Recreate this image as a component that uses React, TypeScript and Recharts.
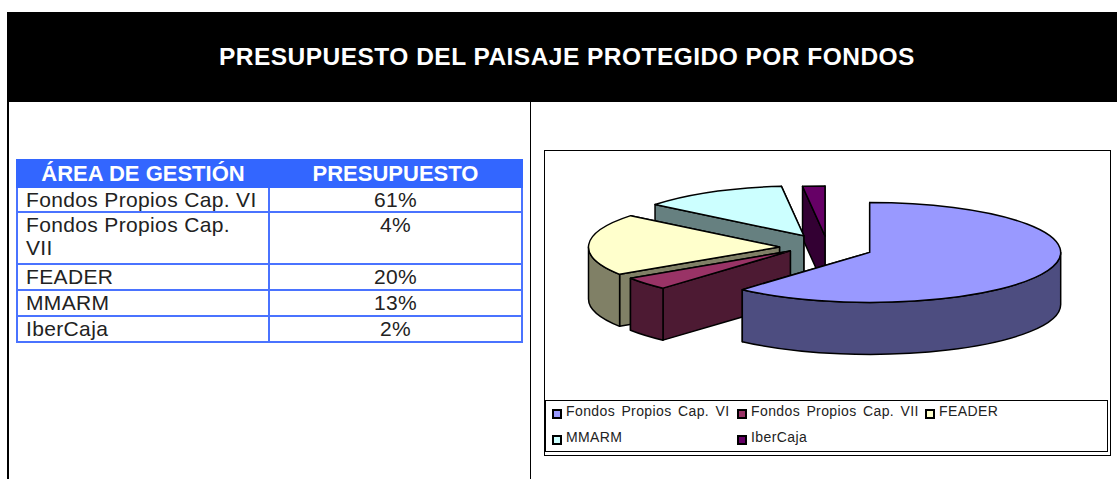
import React from "react";
import { PieChart, Pie, Legend } from "recharts";

const title = "PRESUPUESTO DEL PAISAJE PROTEGIDO POR FONDOS";
const tableHeaders = ["ÁREA DE GESTIÓN", "PRESUPUESTO"];
const areas = ["Fondos Propios Cap. VI", "Fondos Propios Cap. VII", "FEADER", "MMARM", "IberCaja"];
const budget = [61, 4, 20, 13, 2];
const topColors = ["#9999FF", "#993366", "#FFFFCC", "#CCFFFF", "#660066"];
const sideColors = ["#4D4D80", "#4D1A33", "#808066", "#668080", "#330033"];
// small correction per slice, the original has some perspective
const sliceLift = [1, -5, 0, 0, 2];
const sliceShift = [0, 0, 2, 3, 3];

const rowHeights = [25, 52, 26, 26, 26];
const FONT = '"Liberation Sans", Arial, sans-serif';
const BLUE = "#4A73FF";

// painted back to front, so the list runs anticlockwise from the top of the pie
const pieData = areas
  .map((name, i) => ({
    name,
    value: budget[i],
    fill: topColors[i],
    side: sideColors[i],
    lift: sliceLift[i],
    shift: sliceShift[i],
  }))
  .reverse();

const SQUASH = 50 / 191;
const DEPTH = 52;
const EXPLODE_X = 47.5;
const EXPLODE_Y = 13;

// the tilted view pulls the left side edges a few degrees round
const warp = (a: number) => a - 3.5 * Math.sin(((a - 90) * Math.PI) / 180);

const Slice3D = (props: any) => {
  const { cx, cy, outerRadius, startAngle, endAngle, fill, side, lift, shift } = props;
  const s0 = Math.min(startAngle, endAngle);
  const s1 = Math.max(startAngle, endAngle);
  const a0 = warp(s0);
  const a1 = warp(s1);
  const mid = ((s0 + s1) / 2) * (Math.PI / 180);
  const ox = cx + Math.cos(mid) * EXPLODE_X + shift;
  const oy = cy - Math.sin(mid) * EXPLODE_Y + lift;
  const rx = outerRadius;
  const ry = outerRadius * SQUASH;
  const pt = (deg: number, dy = 0) => {
    const r = (deg * Math.PI) / 180;
    return `${ox + Math.cos(r) * rx} ${oy - Math.sin(r) * ry + dy}`;
  };
  const wall = (deg: number) =>
    `M${ox} ${oy} L${pt(deg)} L${pt(deg, DEPTH)} L${ox} ${oy + DEPTH}Z`;
  const large = a1 - a0 > 180 ? 1 : 0;
  const top = `M${ox} ${oy} L${pt(a0)} A${rx} ${ry} 0 ${large} 0 ${pt(a1)}Z`;
  // only the front half of the rim shows
  const f0 = Math.max(a0, 180);
  const f1 = Math.min(a1, 360);
  const rim =
    f1 > f0
      ? `M${pt(f0)} A${rx} ${ry} 0 0 0 ${pt(f1)} L${pt(f1, DEPTH)} A${rx} ${ry} 0 0 1 ${pt(f0, DEPTH)}Z`
      : null;
  const line = { stroke: "#000", strokeWidth: 1.5, strokeLinejoin: "round" as const };
  return (
    <g>
      <path d={wall(a0)} fill={side} {...line} />
      <path d={wall(a1)} fill={side} {...line} />
      {rim && <path d={rim} fill={side} {...line} />}
      <path d={top} fill={fill} {...line} />
    </g>
  );
};

const legendRows = [[0, 1, 2], [3, 4]];
const legendCols = [6, 191, 379];

const LegendBox = () => (
  <div
    style={{
      position: "relative",
      width: 561,
      height: 50,
      border: "1.5px solid #000",
      boxSizing: "content-box",
      fontFamily: FONT,
      fontSize: 14,
      color: "#222",
    }}
  >
    {legendRows.map((row, r) =>
      row.map((idx, c) => (
        <div
          key={idx}
          style={{
            position: "absolute",
            left: legendCols[c],
            top: r === 0 ? 1 : 27,
            height: 18,
            lineHeight: "18px",
            whiteSpace: "nowrap",
            letterSpacing: 0.4,
            wordSpacing: 2,
          }}
        >
          <span
            style={{
              display: "inline-block",
              width: 6,
              height: 6,
              border: "2px solid #000",
              background: topColors[idx],
              marginRight: 4,
              verticalAlign: -3,
            }}
          />
          {areas[idx]}
        </div>
      ))
    )}
  </div>
);

const cell: React.CSSProperties = {
  border: `2px solid ${BLUE}`,
  padding: 0,
  fontSize: 21,
  lineHeight: "23px",
  letterSpacing: 0.35,
  color: "#222",
  verticalAlign: "top",
};

export default function App() {
  return (
    <div
      style={{
        position: "absolute",
        left: 0,
        top: 0,
        width: 1117,
        height: 479,
        overflow: "hidden",
        background: "#fff",
        fontFamily: FONT,
      }}
    >
      <div
        style={{
          position: "absolute",
          left: 7,
          top: 12,
          width: 1110,
          height: 90,
          background: "#000",
          color: "#fff",
          fontWeight: 700,
          fontSize: 24.5,
          lineHeight: "90px",
        }}
      >
        <span style={{ position: "absolute", left: 212, top: 0, whiteSpace: "nowrap", letterSpacing: 0.47 }}>{title}</span>
      </div>
      <div style={{ position: "absolute", left: 7, top: 102, width: 1.5, height: 377, background: "#000" }} />
      <div style={{ position: "absolute", left: 529.5, top: 102, width: 1.5, height: 377, background: "#000" }} />

      <table
        style={{
          position: "absolute",
          left: 16,
          top: 159,
          width: 505,
          borderCollapse: "collapse",
          tableLayout: "fixed",
          fontFamily: FONT,
        }}
      >
        <colgroup>
          <col style={{ width: 252 }} />
          <col style={{ width: 253 }} />
        </colgroup>
        <thead>
          <tr style={{ height: 27 }}>
            {tableHeaders.map((h) => (
              <th
                key={h}
                style={{
                  background: "#3366FF",
                  border: "2px solid #3366FF",
                  color: "#fff",
                  fontSize: 22,
                  lineHeight: "23px",
                  fontWeight: 700,
                  padding: 0,
                  textAlign: "center",
                }}
              >
                {h}
              </th>
            ))}
          </tr>
        </thead>
        <tbody>
          {areas.map((a, i) => (
            <tr key={a} style={{ height: rowHeights[i] }}>
              <td style={{ ...cell, paddingLeft: 8, paddingRight: 8 }}>{a}</td>
              <td style={{ ...cell, textAlign: "center" }}>{budget[i]}%</td>
            </tr>
          ))}
        </tbody>
      </table>

      <div
        style={{
          position: "absolute",
          left: 544,
          top: 150,
          width: 567,
          height: 306,
          border: "1.5px solid #000",
          boxSizing: "border-box",
        }}
      >
        <PieChart width={564} height={303} margin={{ top: 0, right: 0, bottom: 0, left: 0 }}>
          <Pie
            data={pieData}
            dataKey="value"
            nameKey="name"
            cx={280}
            cy={96}
            innerRadius={0}
            outerRadius={191}
            startAngle={90}
            endAngle={450}
            shape={Slice3D}
            isAnimationActive={false}
          />
          <Legend content={<LegendBox />} wrapperStyle={{ left: 0, top: 249, bottom: "auto", width: 564 }} />
        </PieChart>
      </div>
    </div>
  );
}
